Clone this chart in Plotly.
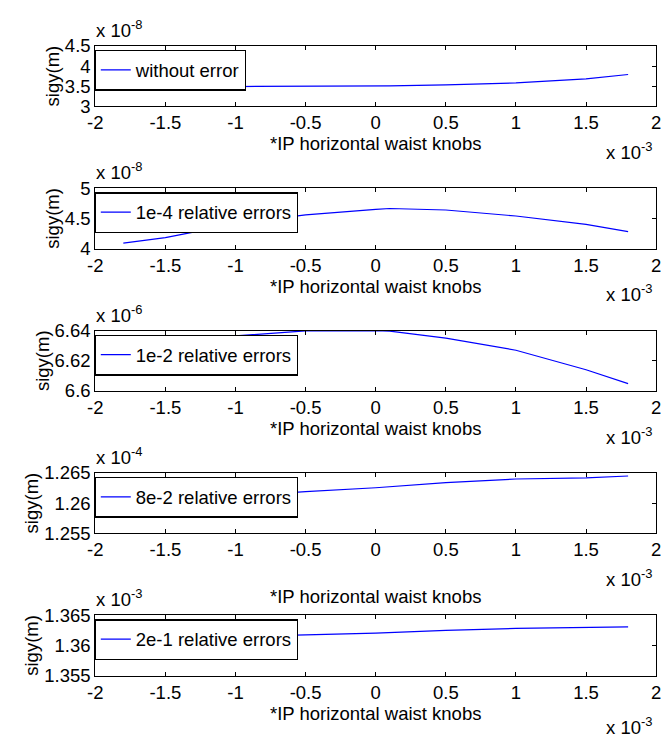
import plotly.graph_objects as go

# ---------------- data (x in units of 1e-3, y in units given per panel) ----------------
x_knob = [-1.8, -1.5, -1.0, -0.5, 0.0, 0.1, 0.5, 1.0, 1.5, 1.8]

sigy_no_err = [3.78, 3.64, 3.49, 3.49, 3.50, 3.505, 3.53, 3.58, 3.68, 3.79]          # x 1e-8
sigy_1e4 = [4.09, 4.18, 4.41, 4.56, 4.65, 4.665, 4.64, 4.54, 4.40, 4.28]             # x 1e-8
sigy_1e2 = [6.630, 6.633, 6.6365, 6.6398, 6.6400, 6.6397, 6.635, 6.627, 6.614, 6.6048]  # x 1e-6
sigy_8e2 = [1.2590, 1.2603, 1.2611, 1.2619, 1.26255, 1.2627, 1.2634, 1.2640, 1.2642, 1.2645]  # x 1e-4
sigy_2e1 = [1.3610, 1.3612, 1.3615, 1.36174, 1.36205, 1.36215, 1.36251, 1.36282, 1.36303, 1.36308]  # x 1e-3

series_names = ["without error", "1e-4 relative errors", "1e-2 relative errors",
                "8e-2 relative errors", "2e-1 relative errors"]
series_vals = [sigy_no_err, sigy_1e4, sigy_1e2, sigy_8e2, sigy_2e1]
y_exponents = ["-8", "-8", "-6", "-4", "-3"]
y_ranges = [[3, 4.5], [4, 5], [6.6, 6.64], [1.255, 1.265], [1.355, 1.365]]
y_tickvals = [[3, 3.5, 4, 4.5], [4, 4.5, 5], [6.6, 6.62, 6.64],
              [1.255, 1.26, 1.265], [1.355, 1.36, 1.365]]
y_ticktext = [["3", "3.5", "4", "4.5"], ["4", "4.5", "5"], ["6.6", "6.62", "6.64"],
              ["1.255", "1.26", "1.265"], ["1.355", "1.36", "1.365"]]
x_tickvals = [-2, -1.5, -1, -0.5, 0, 0.5, 1, 1.5, 2]
x_ticktext = ["-2", "-1.5", "-1", "-0.5", "0", "0.5", "1", "1.5", "2"]
x_label = "*IP horizontal waist knobs"
y_label = "sigy(m)"

# ---------------- layout geometry (pixels) ----------------
W, H = 669, 738
LEFT, RIGHT = 89, 661
tops = [36, 182.5, 329, 475.5, 622]
bots = [98, 244.5, 391, 537.5, 684]
title_standoff = [0, 0, 0, 30, 0]
xexp_offset = [46, 46, 46, 46, 52]
FONT = "Liberation Sans, Arial, sans-serif"
FS = 18.5

def px_x(p):
    return p / W

def px_y(p):
    return 1 - p / H

fig = go.Figure()
annotations = []
layout = dict(
    width=W, height=H,
    margin=dict(l=0, r=0, t=0, b=0),
    paper_bgcolor="white", plot_bgcolor="white",
    font=dict(family=FONT, size=FS, color="black"),
    showlegend=True,
)

for i in range(5):
    k = "" if i == 0 else str(i + 1)
    xa, ya = "x" + k, "y" + k
    leg = "legend" + k
    fig.add_trace(go.Scatter(
        x=x_knob, y=series_vals[i], mode="lines", name=series_names[i],
        line=dict(color="#0000ff", width=1.2), xaxis=xa, yaxis=ya, legend=leg,
        showlegend=True,
    ))
    layout["xaxis" + k] = dict(
        domain=[px_x(LEFT), px_x(RIGHT)], anchor=ya, range=[-2, 2],
        tickmode="array", tickvals=x_tickvals, ticktext=x_ticktext,
        ticks="inside", ticklen=4, tickcolor="black", tickwidth=1,
        showline=True, linecolor="black", linewidth=1, mirror="ticks",
        showgrid=False, zeroline=False, ticklabelstandoff=0,
        title=dict(text=x_label, standoff=title_standoff[i], font=dict(size=FS)),
        tickfont=dict(size=FS),
    )
    layout["yaxis" + k] = dict(
        domain=[px_y(bots[i]), px_y(tops[i])], anchor=xa, range=y_ranges[i],
        tickmode="array", tickvals=y_tickvals[i], ticktext=y_ticktext[i],
        ticks="inside", ticklen=4, tickcolor="black", tickwidth=1,
        showline=True, linecolor="black", linewidth=1, mirror="ticks",
        showgrid=False, zeroline=False, ticklabelstandoff=0,
        title=dict(text=y_label, standoff=0, font=dict(size=FS)),
        tickfont=dict(size=FS),
    )
    layout[leg] = dict(
        x=px_x(88), y=px_y(tops[i] + 4), xanchor="left", yanchor="top",
        bgcolor="white", bordercolor="black", borderwidth=1.5,
        font=dict(family=FONT, size=FS, color="black"),
        itemwidth=30, tracegroupgap=0,
    )
    annotations.append(dict(
        text="x 10<sup>" + y_exponents[i] + "</sup>", xref="paper", yref="paper",
        x=px_x(LEFT - 1), y=px_y(tops[i] - 3), xanchor="left", yanchor="bottom",
        showarrow=False, font=dict(size=FS),
    ))
    annotations.append(dict(
        text="x 10<sup>-3</sup>", xref="paper", yref="paper",
        x=px_x(RIGHT - 2), y=px_y(bots[i] + xexp_offset[i]), xanchor="right", yanchor="middle",
        showarrow=False, font=dict(size=FS),
    ))

layout["annotations"] = annotations
fig.update_layout(**layout)
fig.write_html("out.html")
